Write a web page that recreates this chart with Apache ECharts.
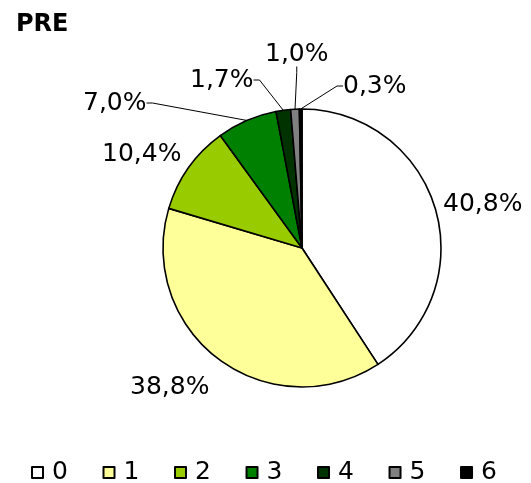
<!DOCTYPE html>
<html>
<head>
<meta charset="utf-8">
<script src="https://cdn.jsdelivr.net/npm/echarts@6/dist/echarts.min.js"></script>
<style>
  html, body { margin: 0; padding: 0; background: #fff; }
  #container { width: 531px; height: 483px; }
</style>
</head>
<body>
<div id="container"></div>
<script>
// categories and shares (%)
var categories = ['0', '1', '2', '3', '4', '5', '6'];
var shares = [40.8, 38.8, 10.4, 7.0, 1.7, 1.0, 0.3];
var colors = ['#ffffff', '#ffff99', '#99cc00', '#008000', '#003300', '#808080', '#000000'];

// where each percentage label sits (left edge, vertical middle)
var labelPos = [
    [443, 204], [130, 387], [102, 154], [83, 103],
    [190, 80], [265, 54], [343, 86]
];
var withLine = [false, false, false, true, true, true, true];

var font = 'Verdana, "DejaVu Sans", sans-serif';

function fillChart() {
    var pieData = [];
    for (var i = 0; i < categories.length; i++) {
        pieData.push({
            name: categories[i],
            value: shares[i],
            itemStyle: { color: colors[i] },
            labelLine: { show: withLine[i] }
        });
    }

    var myChart = echarts.init(document.getElementById('container'));
    myChart.setOption({
        animation: false,
        title: {
            text: 'PRE',
            left: 11,
            top: 8,
            textStyle: { fontFamily: font, fontSize: 24, fontWeight: 'bold', color: '#000' }
        },
        legend: {
            data: categories,
            left: 26,
            top: 455,
            icon: 'rect',
            itemWidth: 11,
            itemHeight: 11,
            itemGap: 34.6,
            textStyle: { fontFamily: font, fontSize: 25, color: '#000', padding: [0, 0, 0, 4] }
        },
        series: [
            {
                type: 'pie',
                center: [302, 248],
                radius: 139,
                startAngle: 90,
                clockwise: true,
                avoidLabelOverlap: false,
                itemStyle: { borderColor: '#000', borderWidth: 1.6 },
                label: {
                    show: true,
                    position: 'outside',
                    fontFamily: font,
                    fontSize: 25,
                    color: '#000',
                    formatter: function (p) {
                        return p.value.toFixed(1).replace('.', ',') + '%';
                    }
                },
                labelLine: {
                    show: true,
                    length: 10,
                    length2: 6,
                    lineStyle: { color: '#000', width: 1 }
                },
                labelLayout: function (params) {
                    var pos = labelPos[params.dataIndex];
                    return { x: pos[0], y: pos[1], align: 'left', verticalAlign: 'middle' };
                },
                emphasis: { disabled: true },
                data: pieData
            }
        ]
    });
}

fillChart();
</script>
</body>
</html>
